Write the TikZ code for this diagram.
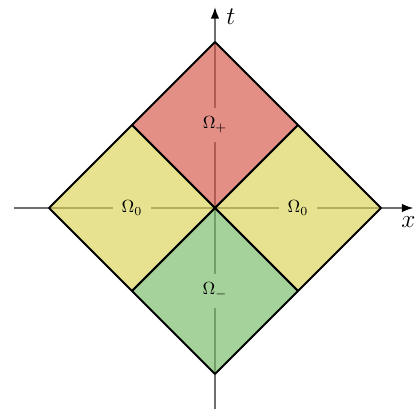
\documentclass[tikz,border=0pt]{standalone}
\usepackage{xcolor}
\usepackage{tikz}
\usetikzlibrary{positioning,arrows.meta}
\definecolor{CRed}{HTML}{D45345}
\definecolor{CYellow}{HTML}{D9D253}
\definecolor{CGreen}{HTML}{75BA65}
\definecolor{CAxis}{HTML}{6E6E6E}

\begin{document}
\begin{tikzpicture}[x=1.66cm, y=1.66cm,
  axis/.style  ={-{Latex[length=2.3mm, width=1.7mm, black]}, draw=CAxis, line width=0.85pt},
  region/.style={draw=black, line width=1.1pt, line join=round, fill opacity=0.65, draw opacity=1},
  lbl/.style   ={font=\normalsize, inner sep=5pt},
  axlbl/.style ={font=\Large}]
\useasboundingbox (-2.59,-2.42) rectangle (2.458,2.506);
% corners of the diamond
\coordinate (O)  at (0,0);
\coordinate (T)  at (0,2);   \coordinate (B)  at (0,-2);
\coordinate (L)  at (-2,0);  \coordinate (R)  at (2,0);
\coordinate (UL) at (-1,1);  \coordinate (UR) at (1,1);
\coordinate (DL) at (-1,-1); \coordinate (DR) at (1,-1);
% axes
\coordinate (xs) at (-2.42,0); \coordinate (xe) at (2.39,0);
\coordinate (ts) at (0,-2.45); \coordinate (te) at (0,2.42);
\draw[axis] (xs) -- (xe);
\draw[axis] (ts) -- (te);
\node[axlbl] (xlab) at (2.33,-0.17) {$x$};
\node[axlbl] (tlab) at (0.19,2.30)  {$t$};
% regions
\draw[region, fill=CRed]    (T) -- (UR) -- (O) -- (UL) -- cycle;
\draw[region, fill=CYellow] (L) -- (UL) -- (O) -- (DL) -- cycle;
\draw[region, fill=CYellow] (R) -- (UR) -- (O) -- (DR) -- cycle;
\draw[region, fill=CGreen]  (B) -- (DR) -- (O) -- (DL) -- cycle;
\node[lbl, fill=CRed!65!white]    (omp) at (0,1)  {$\Omega_+$};
\node[lbl, fill=CYellow!65!white] (oml) at (-1,0) {$\Omega_0$};
\node[lbl, fill=CYellow!65!white] (omr) at (1,0)  {$\Omega_0$};
\node[lbl, fill=CGreen!65!white]  (omm) at (0,-1) {$\Omega_-$};
\end{tikzpicture}
\end{document}
